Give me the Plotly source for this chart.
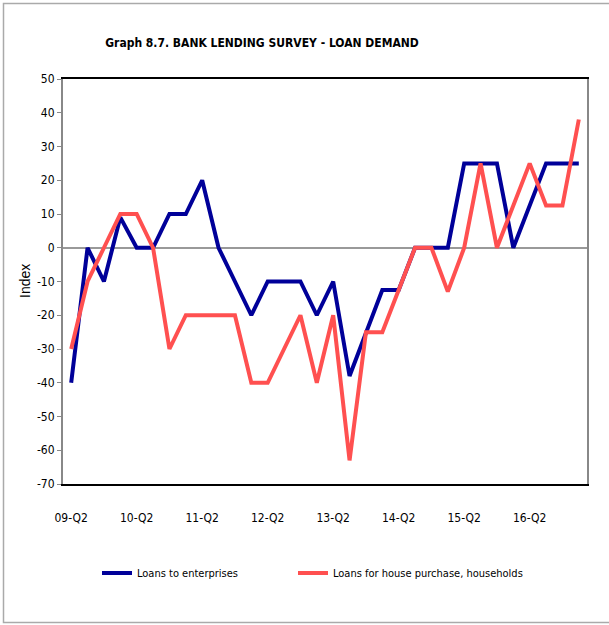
import plotly.graph_objects as go

quarters = ["09-Q2", "09-Q3", "09-Q4", "10-Q1",
            "10-Q2", "10-Q3", "10-Q4", "11-Q1",
            "11-Q2", "11-Q3", "11-Q4", "12-Q1",
            "12-Q2", "12-Q3", "12-Q4", "13-Q1",
            "13-Q2", "13-Q3", "13-Q4", "14-Q1",
            "14-Q2", "14-Q3", "14-Q4", "15-Q1",
            "15-Q2", "15-Q3", "15-Q4", "16-Q1",
            "16-Q2", "16-Q3", "16-Q4", "17-Q1"]
tick_labels = ["09-Q2", "10-Q2", "11-Q2", "12-Q2", "13-Q2", "14-Q2", "15-Q2", "16-Q2"]
y_ticks = [-70, -60, -50, -40, -30, -20, -10, 0, 10, 20, 30, 40, 50]
y_tick_text = ["-70", "-60", "-50", "-40", "-30", "-20", "-10", "0", "10", "20", "30", "40", "50"]
enterprises = [-40, 0, -10, 9, 0, 0, 10, 10, 20, 0, -10, -20, -10, -10, -10, -20,
               -10, -38, -25, -12.5, -12.5, 0, 0, 0, 25, 25, 25, 0, 12.5, 25, 25, 25]
households = [-30, -10, 0, 10, 10, 0, -30, -20, -20, -20, -20, -40, -40, -30, -20, -40,
              -20, -63, -25, -25, -12.5, 0, 0, -13, 0, 25, 0, 12.5, 25, 12.5, 12.5, 38]

FONT = "DejaVu Sans Condensed, Liberation Sans Narrow, Arial Narrow, sans-serif"
W, H = 609, 625
L, R, T, B = 63, 22, 79, 141
pw, ph = W - L - R, H - T - B

def px_x(x):
    return (x - L) / pw

def px_y(y):
    return (H - B - y) / ph

fig = go.Figure()
fig.add_trace(go.Scatter(x=quarters, y=enterprises, mode="lines", name="Loans to enterprises",
                         line=dict(color="#000099", width=4), legend="legend"))
fig.add_trace(go.Scatter(x=quarters, y=households, mode="lines",
                         name="Loans for house purchase, households",
                         line=dict(color="#FF5050", width=4), legend="legend2"))

fig.update_layout(
    width=W, height=H,
    margin=dict(l=L, r=R, t=T, b=B, autoexpand=False),
    paper_bgcolor="white", plot_bgcolor="white",
    font=dict(family=FONT, size=12, color="black"),
    title=dict(text="<b>Graph 8.7. BANK LENDING SURVEY - LOAN DEMAND</b>",
               x=262 / W, xref="container", xanchor="center",
               y=1 - 43 / H, yref="container", yanchor="middle",
               font=dict(family=FONT, size=12, color="black")),
    xaxis=dict(type="category", categoryorder="array", categoryarray=quarters,
               range=[-0.5, len(quarters) - 0.5],
               tickmode="array", tickvals=tick_labels, ticktext=tick_labels,
               showgrid=False, ticks="", showline=True, linecolor="black", linewidth=2,
               mirror=True, ticklabelstandoff=22,
               tickfont=dict(family=FONT, size=12)),
    yaxis=dict(range=[-70, 50], tickmode="array", tickvals=y_ticks, ticktext=y_tick_text,
               showgrid=False,
               zeroline=True, zerolinecolor="#999999", zerolinewidth=1.5,
               showline=True, linecolor="#888888", linewidth=2, mirror=True,
               ticks="outside", ticklen=4, tickcolor="#888888",
               tickfont=dict(family=FONT, size=12)),
    showlegend=True,
    legend=dict(orientation="h", x=px_x(97), xanchor="left", y=px_y(573), yanchor="middle",
                font=dict(family=FONT, size=11), bgcolor="rgba(0,0,0,0)"),
    legend2=dict(orientation="h", x=px_x(293), xanchor="left", y=px_y(573), yanchor="middle",
                 font=dict(family=FONT, size=11), bgcolor="rgba(0,0,0,0)"),
    annotations=[dict(text="Index", xref="paper", yref="paper", x=px_x(25), y=px_y(281),
                      xanchor="center", yanchor="middle", textangle=-90, showarrow=False,
                      font=dict(family="Liberation Sans, Arial, sans-serif", size=14, color="black"))],
    shapes=[dict(type="rect", xref="paper", yref="paper",
                 x0=px_x(3.5), x1=px_x(620), y0=px_y(622.5), y1=px_y(3.5),
                 line=dict(color="#AAAAAA", width=1.5), layer="below")],
)

fig.write_html("out.html", config={"displayModeBar": False},
               post_script="document.body.style.margin='0';document.body.style.overflow='hidden';")
